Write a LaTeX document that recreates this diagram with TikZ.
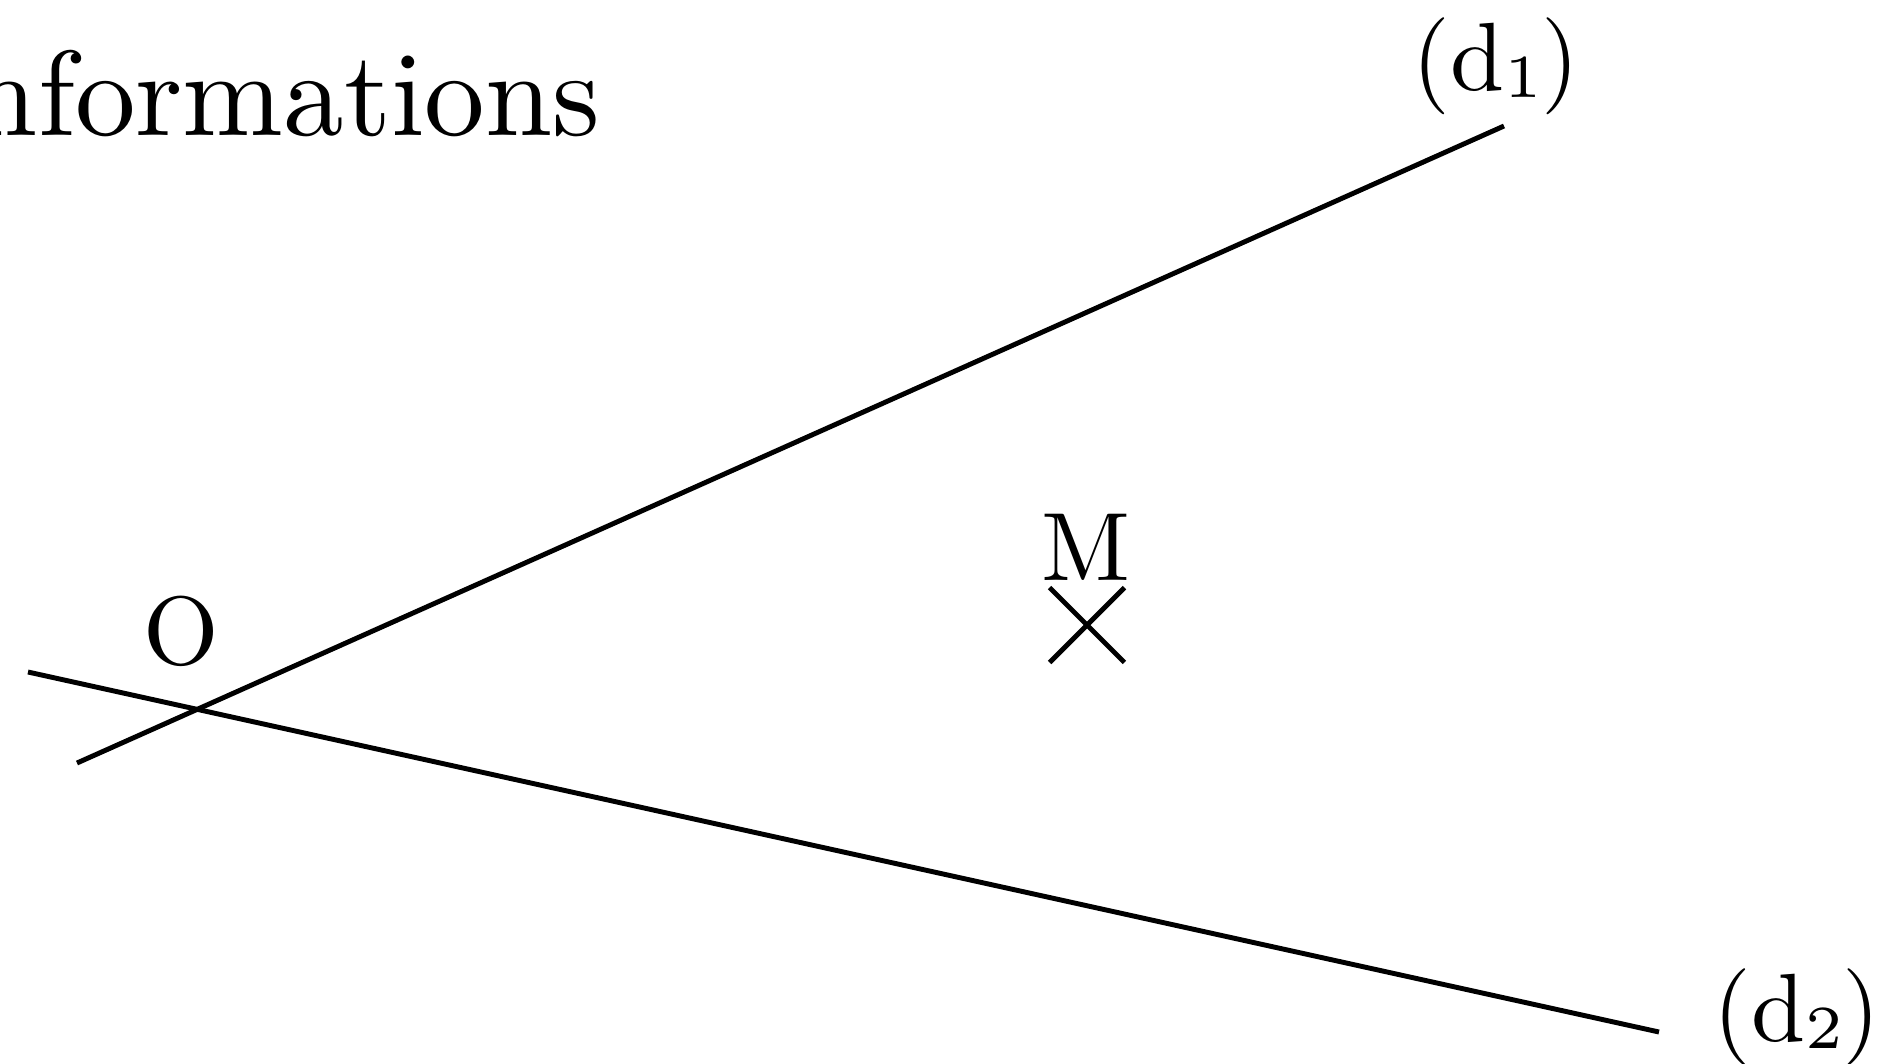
\documentclass[tikz,border=0pt]{standalone}
\usetikzlibrary{positioning,shapes.misc}
\tikzset{
  droite/.style={line width=1.4pt},
  ptlabel/.style={inner sep=0pt, font=\fontsize{10}{12}\selectfont},
  titletext/.style={inner sep=0pt, font=\fontsize{10}{12}\selectfont},
  pointcross/.style={draw, cross out, line width=1.4pt, minimum size=0.7cm, inner sep=0pt}
}
\newcommand{\bigtxt}[1]{\scalebox{2.76}{#1}}
\newcommand{\indice}[1]{\raisebox{-0.08em}{\fontsize{6.3}{7}\selectfont #1}}
\begin{document}
\begin{tikzpicture}[x=0.01cm, y=-0.01cm]
  \useasboundingbox (0,0) rectangle (1881,1063);
  \node[titletext, anchor=base east] (titre) at (601,135) {\scalebox{3.44}{Informations}};
  \coordinate (a1) at (77,763);
  \coordinate (b1) at (1504,126);
  \coordinate (a2) at (28,672);
  \coordinate (b2) at (1659,1032);
  \draw[droite] (a1) -- (b1);
  \draw[droite] (a2) -- (b2);
  \node[ptlabel, anchor=base] (labO) at (181,664) {\bigtxt{O}};
  \node[pointcross] (M) at (1087,625) {};
  \node[ptlabel, anchor=base] (labM) at (1086,580) {\bigtxt{M}};
  \node[ptlabel, anchor=base west] (labd1) at (1412,90) {\bigtxt{(d\indice{1})}};
  \node[ptlabel, anchor=base west] (labd2) at (1713,1041) {\bigtxt{(d\indice{2})}};
\end{tikzpicture}
\end{document}
